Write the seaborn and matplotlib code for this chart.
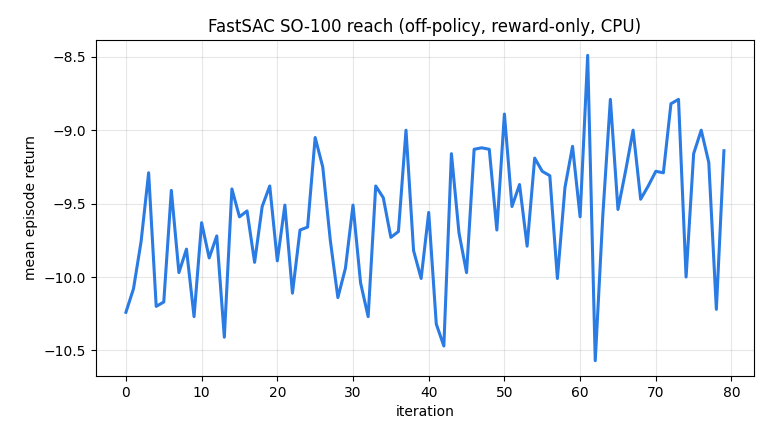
import matplotlib
matplotlib.use("Agg")
import matplotlib.pyplot as plt
import pandas as pd
import seaborn as sns

# mean episode return per iteration
iterations = list(range(80))
mean_return = [
    -10.24, -10.08, -9.76, -9.29, -10.20, -10.17, -9.41, -9.97, -9.81, -10.27,
    -9.63, -9.87, -9.72, -10.41, -9.40, -9.59, -9.55, -9.90, -9.52, -9.38,
    -9.89, -9.51, -10.11, -9.68, -9.66, -9.05, -9.25, -9.75, -10.14, -9.94,
    -9.51, -10.04, -10.27, -9.38, -9.46, -9.73, -9.69, -9.00, -9.82, -10.01,
    -9.56, -10.32, -10.47, -9.16, -9.70, -9.97, -9.13, -9.12, -9.13, -9.68,
    -8.89, -9.52, -9.37, -9.79, -9.19, -9.28, -9.31, -10.01, -9.39, -9.11,
    -9.59, -8.49, -10.57, -9.58, -8.79, -9.54, -9.28, -9.00, -9.47, -9.38,
    -9.28, -9.29, -8.82, -8.79, -10.00, -9.16, -9.00, -9.22, -10.22, -9.14,
]

df = pd.DataFrame({"iteration": iterations, "mean_return": mean_return})

fig = plt.figure(figsize=(7.7, 4.4), dpi=100)
ax = fig.add_axes([0.1247, 0.1455, 0.8543, 0.7635])
sns.lineplot(data=df, x="iteration", y="mean_return", color="#2a7be4",
             linewidth=2.2, ax=ax)
ax.grid(True, alpha=0.3)
ax.set_title("FastSAC SO-100 reach (off-policy, reward-only, CPU)", fontsize=12)
ax.set_xlabel("iteration")
ax.set_ylabel("mean episode return")
ax.set_xticks([0, 10, 20, 30, 40, 50, 60, 70, 80])
fig.savefig("out.png", dpi=100)
